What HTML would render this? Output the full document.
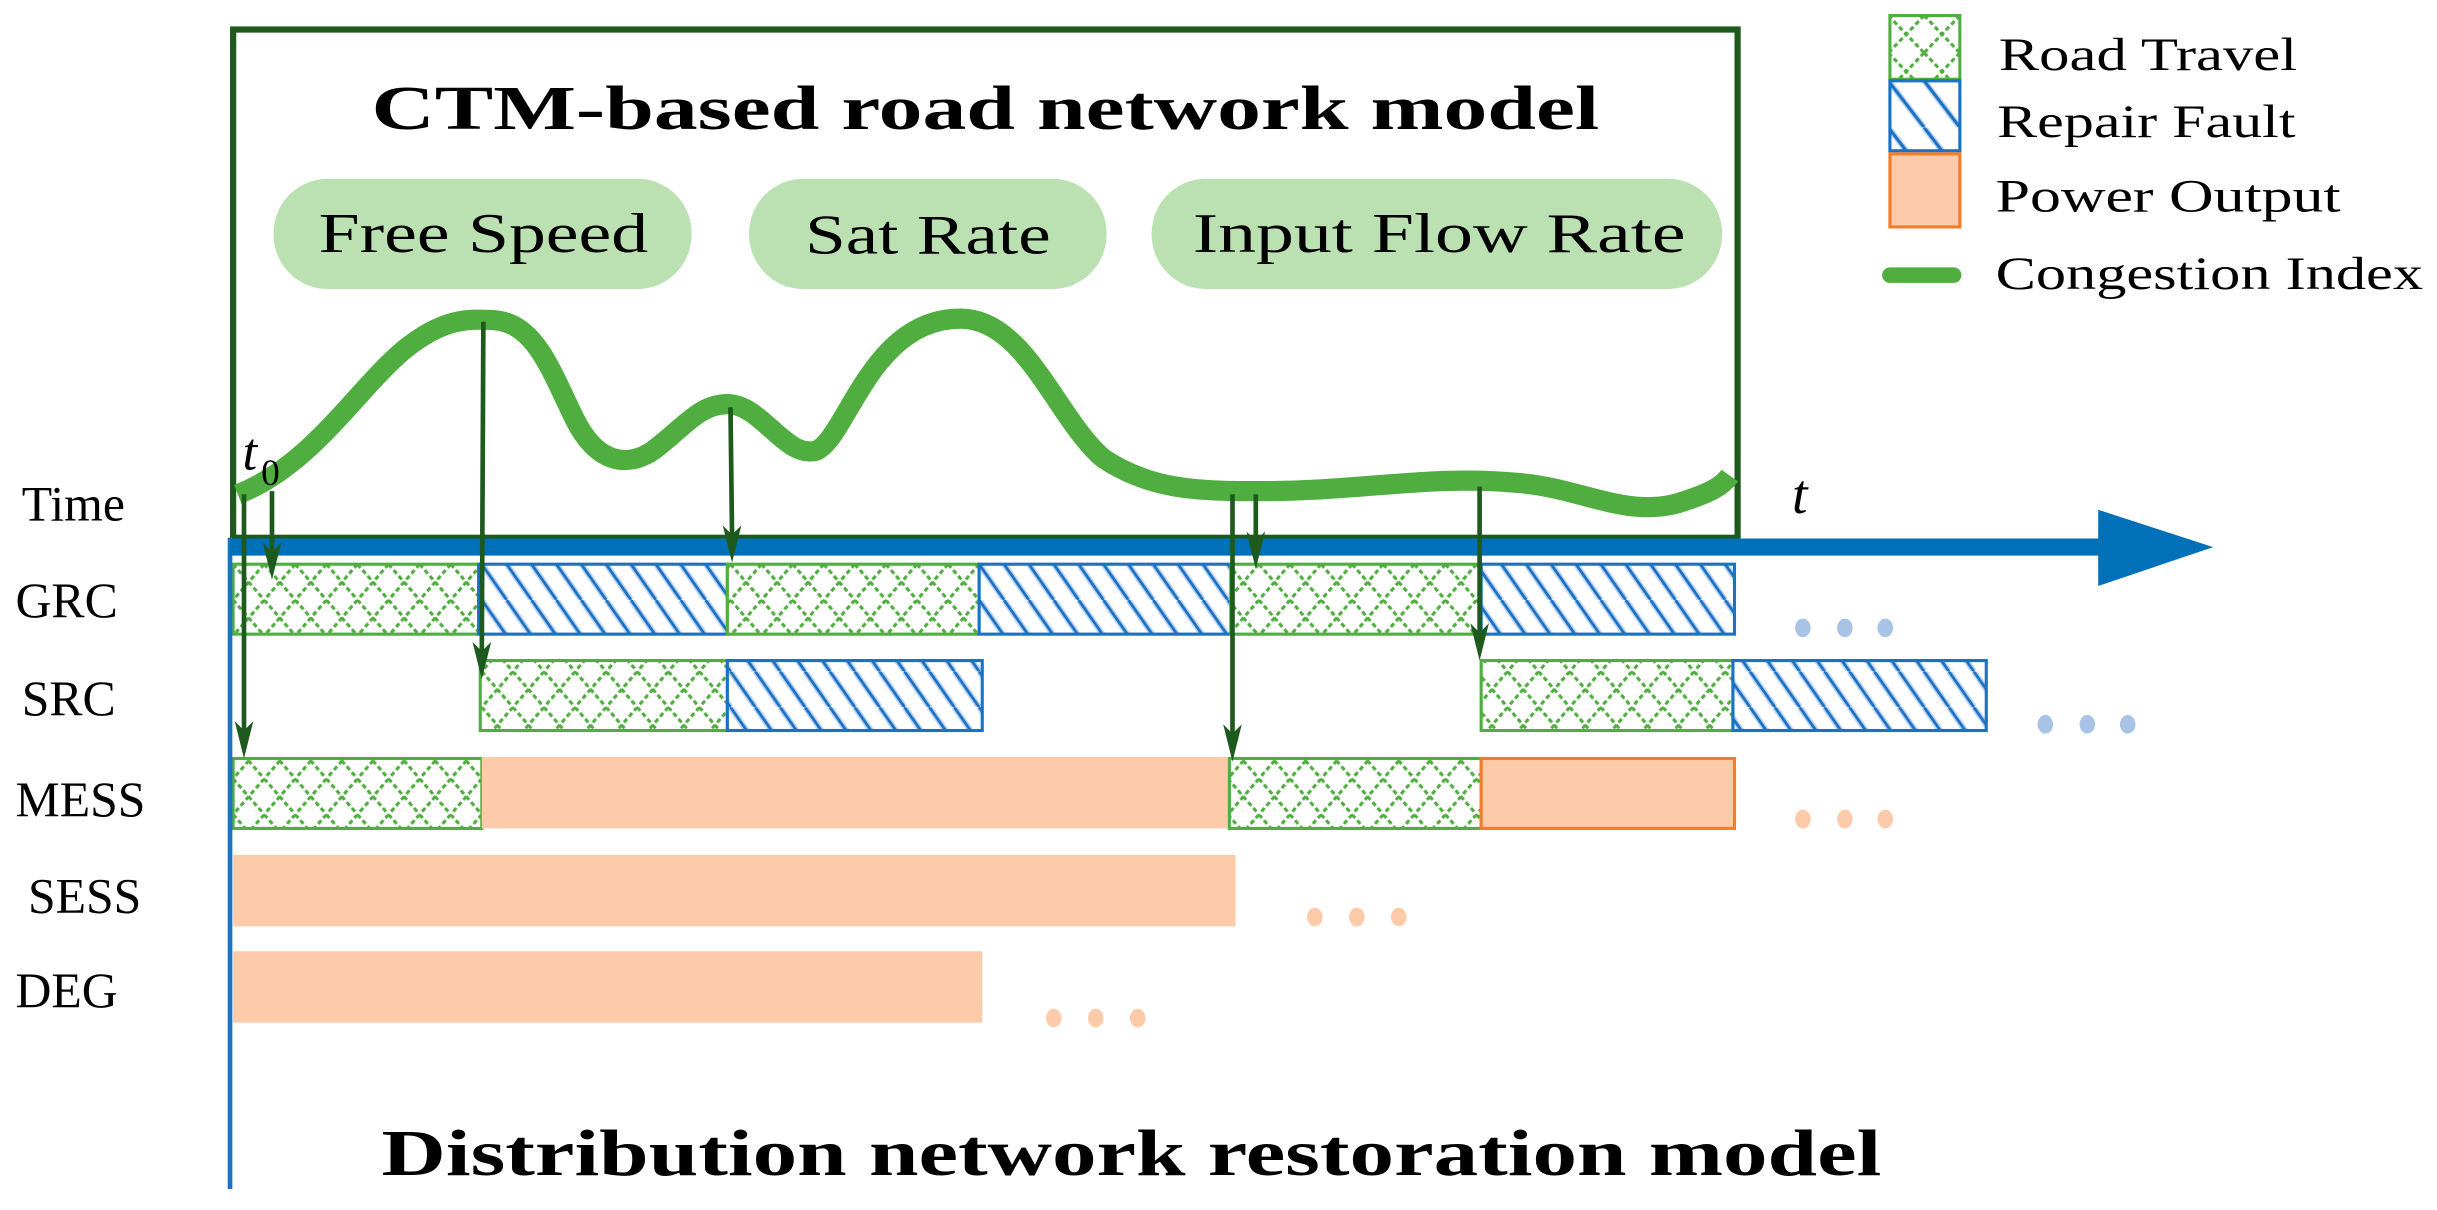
<!DOCTYPE html>
<html><head><meta charset="utf-8"><style>
html,body{margin:0;padding:0;background:#fff;}
svg{display:block;}
text{font-family:"Liberation Serif",serif;fill:#000;}
</style></head><body>
<svg width="2437" height="1210" viewBox="0 0 1568 778.5" preserveAspectRatio="none" xmlns="http://www.w3.org/2000/svg">
<defs>
<pattern id="cross" width="20" height="23" patternUnits="userSpaceOnUse" x="150" y="363">
<rect width="20" height="23" fill="#fff"/>
<path d="M0 0 L20 23 M20 0 L0 23" stroke="#4fae3f" stroke-width="2" stroke-dasharray="3 2"/>
</pattern>
<pattern id="diag" width="16" height="23" patternUnits="userSpaceOnUse" x="150" y="363">
<rect width="16" height="23" fill="#fff"/>
<path d="M0 0 L16 23 M-16 0 L0 23 M16 0 L32 23" stroke="#c3d6f0" stroke-width="4"/>
<path d="M0 0 L16 23 M-16 0 L0 23 M16 0 L32 23" stroke="#1a72c4" stroke-width="1.8"/>
</pattern>
<pattern id="cross2" width="23" height="24" patternUnits="userSpaceOnUse" x="1215" y="10">
<rect width="23" height="24" fill="#fff"/>
<path d="M0 0 L23 24 M23 0 L0 24" stroke="#4fae3f" stroke-width="2" stroke-dasharray="3 2"/>
</pattern>
<pattern id="diag2" width="46" height="30" patternUnits="userSpaceOnUse" x="1215" y="52">
<rect width="46" height="30" fill="#fff"/>
<path d="M0 0 L23 30 M-23 0 L0 30 M23 0 L46 30 M46 0 L69 30" stroke="#c3d6f0" stroke-width="4"/>
<path d="M0 0 L23 30 M-23 0 L0 30 M23 0 L46 30 M46 0 L69 30" stroke="#1a72c4" stroke-width="2"/>
</pattern>
</defs>

<!-- CTM box -->
<rect x="150" y="19" width="968" height="327" fill="none" stroke="#1e5a1e" stroke-width="4"/>
<text x="634" y="83" font-size="40" font-weight="bold" text-anchor="middle" textLength="790" lengthAdjust="spacingAndGlyphs">CTM-based road network model</text>

<rect x="176" y="115" width="269" height="71" rx="35" fill="#bbe1b2"/>
<rect x="482" y="115" width="230" height="71" rx="35" fill="#bbe1b2"/>
<rect x="741" y="115" width="367" height="71" rx="35" fill="#bbe1b2"/>
<text x="311" y="162" font-size="36" text-anchor="middle" textLength="212" lengthAdjust="spacingAndGlyphs">Free Speed</text>
<text x="597" y="163" font-size="36" text-anchor="middle" textLength="158" lengthAdjust="spacingAndGlyphs">Sat Rate</text>
<text x="926" y="162" font-size="36" text-anchor="middle" textLength="317" lengthAdjust="spacingAndGlyphs">Input Flow Rate</text>

<!-- congestion curve -->
<path d="M153 318 C200 300 230 250 260 225 C285 205 300 205 318 206 C345 208 355 240 370 270 C385 300 405 300 420 290 C440 275 450 260 468 260 C490 260 505 295 525 290 C545 282 560 205 618 205 C660 205 680 270 710 295 C740 315 770 316 810 316 C880 316 920 305 980 311 C1020 315 1050 335 1085 322 C1100 317 1108 313 1113 306" fill="none" stroke="#4fae3f" stroke-width="13"/>

<text x="156" y="302" font-size="34" font-style="italic">t</text>
<text x="168" y="312" font-size="24">0</text>
<text x="1153" y="330" font-size="36" font-style="italic">t</text>

<!-- row labels -->
<text x="14" y="335" font-size="32">Time</text>
<text x="10" y="397" font-size="32">GRC</text>
<text x="14" y="460" font-size="32">SRC</text>
<text x="10" y="525" font-size="32">MESS</text>
<text x="18" y="587" font-size="32">SESS</text>
<text x="10" y="648" font-size="32">DEG</text>

<!-- bars -->
<g stroke-width="2">
<rect x="150" y="363" width="158" height="45" fill="url(#cross)" stroke="#4fae3f"/>
<rect x="308" y="363" width="160" height="45" fill="url(#diag)" stroke="#1a72c4"/>
<rect x="468" y="363" width="162" height="45" fill="url(#cross)" stroke="#4fae3f"/>
<rect x="630" y="363" width="162" height="45" fill="url(#diag)" stroke="#1a72c4"/>
<rect x="792" y="363" width="161" height="45" fill="url(#cross)" stroke="#4fae3f"/>
<rect x="953" y="363" width="163" height="45" fill="url(#diag)" stroke="#1a72c4"/>

<rect x="309" y="425" width="159" height="45" fill="url(#cross)" stroke="#4fae3f"/>
<rect x="468" y="425" width="164" height="45" fill="url(#diag)" stroke="#1a72c4"/>
<rect x="953" y="425" width="162" height="45" fill="url(#cross)" stroke="#4fae3f"/>
<rect x="1115" y="425" width="163" height="45" fill="url(#diag)" stroke="#1a72c4"/>

<rect x="150" y="488" width="160" height="45" fill="url(#cross)" stroke="#4fae3f"/>
<rect x="310" y="487" width="480" height="46" fill="#fdcba9" stroke="none"/>
<rect x="791" y="488" width="162" height="45" fill="url(#cross)" stroke="#4fae3f"/>
<rect x="953" y="488" width="163" height="45" fill="#fdcba9" stroke="#f47b2a"/>
</g>
<rect x="150" y="550" width="645" height="46" fill="#fdcba9"/>
<rect x="150" y="612" width="482" height="46" fill="#fdcba9"/>

<!-- dots -->
<g fill="#a9c3e6"><ellipse cx="1160" cy="404" rx="5" ry="6"/><ellipse cx="1187" cy="404" rx="5" ry="6"/><ellipse cx="1213" cy="404" rx="5" ry="6"/>
<ellipse cx="1316" cy="466" rx="5" ry="6"/><ellipse cx="1343" cy="466" rx="5" ry="6"/><ellipse cx="1369" cy="466" rx="5" ry="6"/></g>
<g fill="#fdcba9"><ellipse cx="1160" cy="527" rx="5" ry="6"/><ellipse cx="1187" cy="527" rx="5" ry="6"/><ellipse cx="1213" cy="527" rx="5" ry="6"/>
<ellipse cx="846" cy="590" rx="5" ry="6"/><ellipse cx="873" cy="590" rx="5" ry="6"/><ellipse cx="900" cy="590" rx="5" ry="6"/>
<ellipse cx="678" cy="655" rx="5" ry="6"/><ellipse cx="705" cy="655" rx="5" ry="6"/><ellipse cx="732" cy="655" rx="5" ry="6"/></g>

<!-- axes -->
<line x1="148" y1="346" x2="148" y2="765" stroke="#1a72c4" stroke-width="3"/>
<line x1="148" y1="352" x2="1355" y2="352" stroke="#0070b8" stroke-width="11"/>
<path d="M1350 328 L1424 352 L1350 377 Z" fill="#0070b8"/>

<!-- arrows -->
<g stroke="#1e5a1e" stroke-width="3" fill="none">
<line x1="157" y1="318" x2="157" y2="470"/>
<line x1="175" y1="316" x2="175" y2="355"/>
<line x1="311" y1="207" x2="310" y2="419"/>
<line x1="470" y1="262" x2="471" y2="344"/>
<line x1="793" y1="318" x2="793" y2="472"/>
<line x1="808" y1="318" x2="808" y2="348"/>
<line x1="952" y1="313" x2="952" y2="407"/>
</g>
<g fill="#1e5a1e">
<path d="M151 464 L157 470 L163 464 L157 488 Z"/>
<path d="M169 349 L175 355 L181 349 L175 373 Z"/>
<path d="M304 413 L310 419 L316 413 L310 437 Z"/>
<path d="M465 338 L471 344 L477 338 L471 362 Z"/>
<path d="M787 466 L793 472 L799 466 L793 490 Z"/>
<path d="M802 342 L808 348 L814 342 L808 366 Z"/>
<path d="M946 401 L952 407 L958 401 L952 425 Z"/>
</g>

<!-- legend -->
<rect x="1216" y="10" width="45" height="41" fill="url(#cross2)" stroke="#4fae3f" stroke-width="2"/>
<rect x="1216" y="52" width="45" height="45" fill="url(#diag2)" stroke="#1a72c4" stroke-width="2"/>
<rect x="1216" y="99" width="45" height="47" fill="#fdcba9" stroke="#f47b2a" stroke-width="2"/>
<line x1="1216" y1="177" x2="1257" y2="177" stroke="#4fae3f" stroke-width="10" stroke-linecap="round"/>
<text x="1286" y="45" font-size="30" textLength="192" lengthAdjust="spacingAndGlyphs">Road Travel</text>
<text x="1285" y="88" font-size="30" textLength="192" lengthAdjust="spacingAndGlyphs">Repair Fault</text>
<text x="1284" y="136" font-size="30" textLength="222" lengthAdjust="spacingAndGlyphs">Power Output</text>
<text x="1284" y="186" font-size="30" textLength="275" lengthAdjust="spacingAndGlyphs">Congestion Index</text>

<text x="728" y="756" font-size="42" font-weight="bold" text-anchor="middle" textLength="965" lengthAdjust="spacingAndGlyphs">Distribution network restoration model</text>
</svg>
</body></html>
